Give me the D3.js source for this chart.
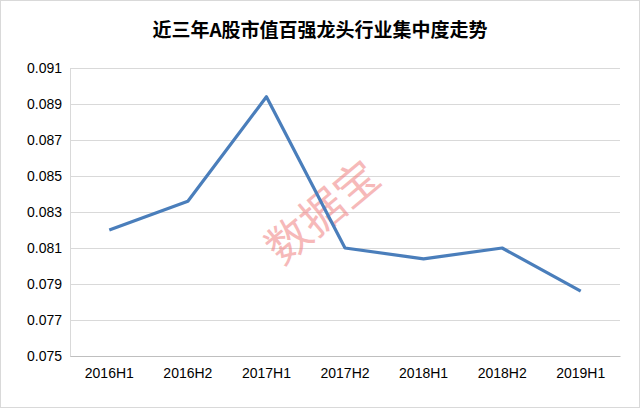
<!DOCTYPE html>
<html><head><meta charset="utf-8">
<script src="https://cdn.jsdelivr.net/npm/d3@7"></script>
<style>body{margin:0;background:#fff}</style>
</head><body>
<script>
var categories = ["2016H1","2016H2","2017H1","2017H2","2018H1","2018H2","2019H1"];
var values = [0.0820, 0.0836, 0.0894, 0.0810, 0.0804, 0.0810, 0.0786];
var yTicks = [0.075,0.077,0.079,0.081,0.083,0.085,0.087,0.089,0.091];

var W = 640, H = 408;
var plotLeft = 70, plotRight = 620, plotTop = 68, plotBottom = 356;
var svg = d3.select("body").append("svg").attr("width", W).attr("height", H);
svg.append("rect").attr("x",0.5).attr("y",0.5).attr("width",W-1).attr("height",H-1)
    .attr("fill","#fff").attr("stroke","#d9d9d9");

var x = d3.scaleBand().domain(categories).range([plotLeft,plotRight]);
var y = d3.scaleLinear().domain([0.075,0.091]).range([plotBottom,plotTop]);

// grid
svg.append("g").selectAll("line").data(yTicks).enter().append("line")
    .attr("x1",plotLeft).attr("x2",plotRight)
    .attr("y1",function(d){return Math.round(y(d))+0.5;})
    .attr("y2",function(d){return Math.round(y(d))+0.5;})
    .attr("stroke","#d9d9d9");

// axes
var yAxis = svg.append("g").attr("transform","translate("+plotLeft+",0)")
    .call(d3.axisLeft(y).tickValues(yTicks).tickFormat(d3.format(".3f")).tickSize(0).tickPadding(8));
yAxis.select(".domain").attr("stroke","#d9d9d9");
var xAxis = svg.append("g").attr("transform","translate(0,"+plotBottom+")")
    .call(d3.axisBottom(x).tickSize(0).tickPadding(12));
xAxis.select(".domain").attr("stroke","#bfbfbf");
svg.selectAll(".tick text").attr("font-family","Liberation Sans, Arial, sans-serif")
    .attr("font-size",14).attr("fill","#000");

// watermark
svg.append("text").attr("transform","translate(325,215) rotate(-40)")
    .attr("text-anchor","middle").attr("dominant-baseline","middle")
    .attr("font-family","Noto Sans CJK SC").attr("font-size",44)
    .attr("fill","#f08080").attr("opacity",0.55).text("数据宝");

// line
var line = d3.line().x(function(d,i){return x(categories[i])+x.bandwidth()/2;}).y(function(d){return y(d);});
svg.append("path").datum(values).attr("d",line).attr("fill","none")
    .attr("stroke","#4a7ebb").attr("stroke-width",3.2).attr("stroke-linejoin","round");

// title
svg.append("text").attr("x",W/2).attr("y",37).attr("text-anchor","middle")
    .attr("font-family","Noto Sans CJK SC").attr("font-weight","bold").attr("font-size",19)
    .attr("fill","#000").text("近三年A股市值百强龙头行业集中度走势");
</script>
</body></html>
